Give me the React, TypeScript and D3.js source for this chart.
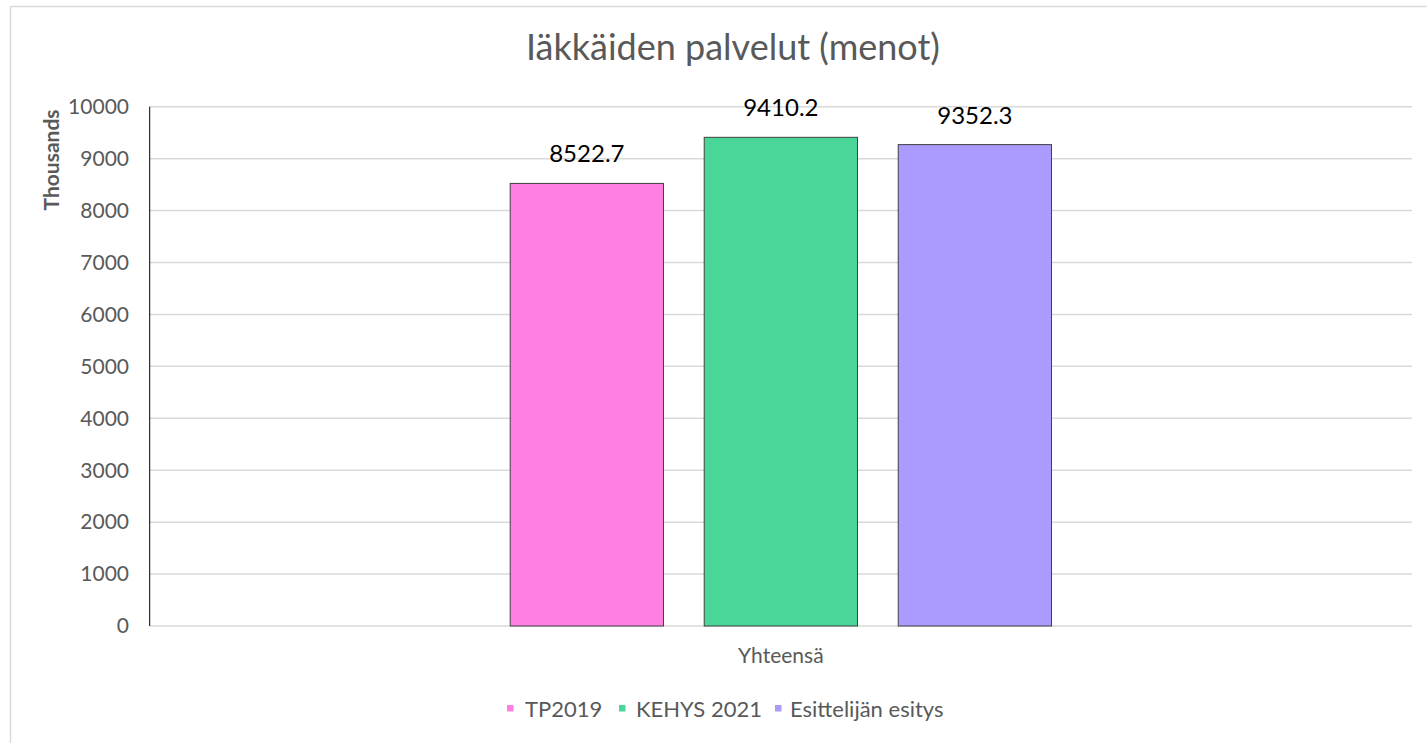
import React from "react";
import * as d3 from "d3";

const categories = ["Yhteensä"];
const seriesNames = ["TP2019", "KEHYS 2021", "Esittelijän esitys"];
const barValues = [8522.7, 9410.2, 9270];
const barLabels = ["8522.7", "9410.2", "9352.3"];
const seriesColors = ["#FF80E2", "#4BD699", "#AB9BFF"];
const yTicks = [0, 1000, 2000, 3000, 4000, 5000, 6000, 7000, 8000, 9000, 10000];
const chartTitle = "Iäkkäiden palvelut (menot)";
const yAxisTitle = "Thousands";

const W = 1427;
const H = 743;
const plot = { left: 149.7, right: 1412, top: 106.7, bottom: 626 };
const FONT = "Lato, 'Open Sans', sans-serif";
const GREY = "#595959";

export default function App() {
  const y = d3.scaleLinear().domain([0, 10000]).range([plot.bottom, plot.top]);
  const x0 = d3
    .scaleBand<string>()
    .domain(categories)
    .range([plot.left, plot.right])
    .paddingInner(0)
    .paddingOuter(0.666);
  const x1 = d3
    .scaleBand<string>()
    .domain(seriesNames)
    .range([0, x0.bandwidth()])
    .paddingInner(0.21)
    .paddingOuter(0);

  const legendItems = [
    { x: 507, tx: 525 },
    { x: 619, tx: 636 },
    { x: 775, tx: 790 },
  ];

  return (
    <svg
      width={W}
      height={H}
      style={{ position: "absolute", left: 0, top: 0, background: "#fff" }}
      fontFamily={FONT}
    >
      <rect x={0} y={0} width={W} height={H} fill="#fff" />
      <rect
        x={10.5}
        y={6.5}
        width={W + 20}
        height={H + 20}
        fill="none"
        stroke="#D9D9D9"
        strokeWidth={1.5}
      />
      <text x={733} y={60} textAnchor="middle" fontSize={36} fill={GREY}>
        {chartTitle}
      </text>

      {yTicks.map((t) => (
        <line
          key={"g" + t}
          x1={plot.left}
          x2={plot.right}
          y1={y(t)}
          y2={y(t)}
          stroke="#D9D9D9"
          strokeWidth={1.5}
        />
      ))}
      {yTicks.map((t) => (
        <text
          key={"t" + t}
          x={129}
          y={y(t)}
          dy="0.35em"
          textAnchor="end"
          fontSize={21}
          fill={GREY}
        >
          {t}
        </text>
      ))}
      <text
        transform={`translate(59,160) rotate(-90)`}
        textAnchor="middle"
        fontSize={21}
        fontWeight="bold"
        fill={GREY}
      >
        {yAxisTitle}
      </text>

      {categories.map((c) => (
        <g key={c} transform={`translate(${x0(c)},0)`}>
          {seriesNames.map((s, i) => (
            <g key={s}>
              <rect
                x={x1(s)}
                y={y(barValues[i])}
                width={x1.bandwidth()}
                height={y(0) - y(barValues[i])}
                fill={seriesColors[i]}
                stroke="#404040"
                strokeWidth={1}
              />
              <text
                x={(x1(s) as number) + x1.bandwidth() / 2}
                y={y(barValues[i]) - 21}
                textAnchor="middle"
                fontSize={24}
                fill="#000"
              >
                {barLabels[i]}
              </text>
            </g>
          ))}
          <text
            x={x0.bandwidth() / 2}
            y={663}
            textAnchor="middle"
            fontSize={21}
            fill={GREY}
          >
            {c}
          </text>
        </g>
      ))}

      <line
        x1={plot.left}
        x2={plot.left}
        y1={plot.top}
        y2={plot.bottom}
        stroke="#000"
        strokeWidth={1}
      />

      {seriesNames.map((s, i) => (
        <g key={"l" + s}>
          <rect
            x={legendItems[i].x}
            y={705}
            width={6.5}
            height={6.5}
            fill={seriesColors[i]}
          />
          <text x={legendItems[i].tx} y={716.5} fontSize={22} fill={GREY}>
            {s}
          </text>
        </g>
      ))}
    </svg>
  );
}
